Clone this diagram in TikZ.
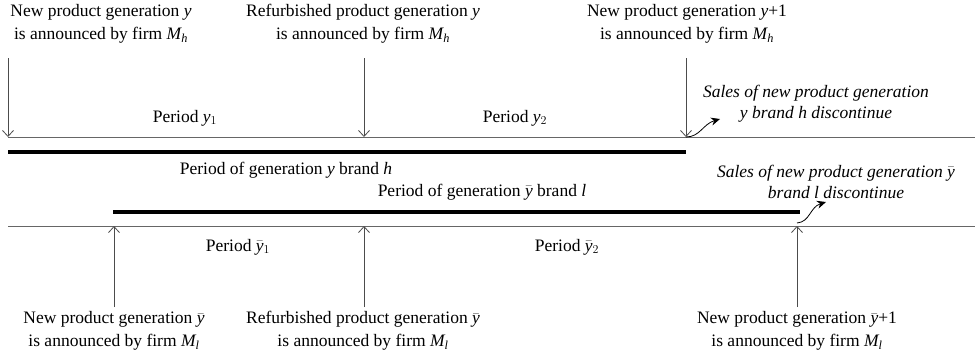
\documentclass[tikz,border=0pt]{standalone}
\usepackage{fontspec}
\setmainfont{Liberation Serif}
\usetikzlibrary{arrows.meta}
\newcommand{\yv}{\mathit{y}}
\newcommand{\yb}{\bar{\mathit{y}}}
\newcommand{\Mh}{\mathit{M}_{\mathit{h}}}
\newcommand{\Ml}{\mathit{M}_{\mathit{l}}}
\begin{document}
\begin{tikzpicture}[x=1pt,y=-1pt,
  lbl/.style={font=\fontsize{17.5}{23}\selectfont, align=center, inner sep=0pt},
  ilbl/.style={font=\fontsize{17.5}{21}\selectfont\itshape, align=center, inner sep=0pt},
  axis/.style={draw=black!60, line width=0.9pt},
  bar/.style={line width=3.2pt, black},
  evt/.style={draw=black!70, line width=0.8pt, -{Straight Barb[length=6pt,width=11pt]}},
  curv/.style={-{Stealth[length=9pt,width=8pt]}, line width=0.8pt}]
\useasboundingbox (0,0) rectangle (975,356);

% axes
\coordinate (TL) at (8,137);   \coordinate (TR) at (975,137);
\coordinate (BL) at (8,226);   \coordinate (BR) at (975,226);
\draw[axis] (TL) -- (TR);
\draw[axis] (BL) -- (BR);

% thick bars
\coordinate (H1) at (8,152);   \coordinate (H2) at (686,152);
\coordinate (L1) at (113,212); \coordinate (L2) at (800,212);
\draw[bar] (H1) -- (H2);
\draw[bar] (L1) -- (L2);

% top labels
\node[lbl] (t1) at (101,24) {New product generation $\yv$\\is announced by firm $\Mh$};
\node[lbl] (t2) at (363,24) {Refurbished product generation $\yv$\\is announced by firm $\Mh$};
\node[lbl] (t3) at (687,24) {New product generation $\yv$+1\\is announced by firm $\Mh$};

% bottom labels
\node[lbl] (b1) at (114,331) {New product generation $\yb$\\is announced by firm $\Ml$};
\node[lbl] (b2) at (363,331) {Refurbished product generation $\yb$\\is announced by firm $\Ml$};
\node[lbl] (b3) at (797,331) {New product generation $\yb$+1\\is announced by firm $\Ml$};

% event arrows (top)
\coordinate (a1s) at (8,58);   \coordinate (a1e) at (8,137);
\coordinate (a2s) at (364,58); \coordinate (a2e) at (364,137);
\coordinate (a3s) at (686,58); \coordinate (a3e) at (686,137);
\draw[evt] (a1s) -- (a1e);
\draw[evt] (a2s) -- (a2e);
\draw[evt] (a3s) -- (a3e);

% event arrows (bottom)
\coordinate (b1s) at (114,307); \coordinate (b1e) at (114,226);
\coordinate (b2s) at (364,307); \coordinate (b2e) at (364,226);
\coordinate (b3s) at (797,307); \coordinate (b3e) at (797,226);
\draw[evt] (b1s) -- (b1e);
\draw[evt] (b2s) -- (b2e);
\draw[evt] (b3s) -- (b3e);

% period labels
\node[lbl] (p1) at (185,118) {Period $\yv_1$};
\node[lbl] (p2) at (515,118) {Period $\yv_2$};
\node[lbl] (q1) at (238,247) {Period $\yb_1$};
\node[lbl] (q2) at (567,247) {Period $\yb_2$};
\node[lbl] (gh) at (286,170) {Period of generation $\yv$ brand $\mathit{h}$};
\node[lbl] (gl) at (482,192) {Period of generation $\yb$ brand $\mathit{l}$};

% discontinue notes
\node[ilbl] (s1) at (816,104) {Sales of new product generation\\$\yv$ brand $\mathit{h}$ discontinue};
\node[ilbl] (s2) at (836,182) {Sales of new product generation $\yb$\\brand $\mathit{l}$ discontinue};
\coordinate (c1) at (720,119);
\coordinate (c2) at (826,202);
\draw[curv] (a3e) .. controls (700,137) and (703,124) .. (c1);
\draw[curv] (797,223) .. controls (810,222) and (810,207) .. (c2);
\end{tikzpicture}
\end{document}
